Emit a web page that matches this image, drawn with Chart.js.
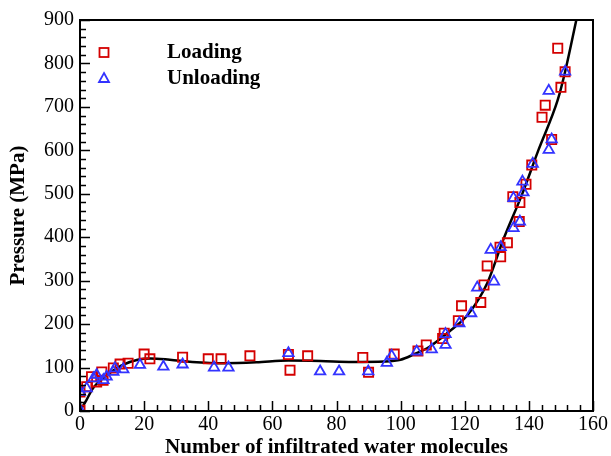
<!DOCTYPE html>
<html>
<head>
<meta charset="utf-8">
<script src="https://cdn.jsdelivr.net/npm/chart.js@4/dist/chart.umd.min.js"></script>
<style>
  html, body { margin: 0; padding: 0; background: #fff; }
  canvas { display: block; }
</style>
</head>
<body>
<canvas id="pressureChart" width="611" height="456"></canvas>
<script>
// loading points (red squares)
const loadingX = [0, 0, 2.1, 3.6, 5.2, 6.8, 7.2, 10.4, 12.5, 15, 20, 21.8, 32, 40, 44, 53, 65, 65.5, 71, 88.2, 90, 98,
    105.4, 108, 113.1, 113.6, 118, 119, 125, 126, 127, 131.2, 131, 133.3, 137, 137.2, 135, 139.1, 140.9, 144.1, 145.1,
    147.1, 150, 151.3, 149];
const loadingY = [2, 44, 56, 79, 67, 90, 71, 99, 108, 110, 131, 120, 124, 120, 120, 127, 130, 94, 127, 123, 89, 131,
    138, 152, 167, 179, 208, 242, 250, 290, 334, 355, 377, 387, 436, 480, 493, 522, 566, 676, 704,
    625, 745, 781, 835];

// unloading points (blue triangles)
const unloadingX = [0, 0, 2.1, 4.2, 5.2, 7.3, 8.3, 10.4, 10.9, 13.5, 18.7, 26, 32, 41.8, 46.3, 65, 74.9, 80.8, 89.9,
    95.7, 97.2, 105, 109.7, 114, 114, 118.3, 122, 123.9, 129.1, 128.1, 131.2, 135.2, 137.2, 135.2, 138.3, 138, 141.2,
    146.2, 147.1, 146.2, 151.3];
const unloadingY = [2, 44, 52, 75, 83, 71, 79, 90, 98, 96, 106, 102, 107, 100, 100, 133, 91, 91, 91,
    111, 127, 137, 142, 152, 177, 202, 225, 284, 298, 371, 377, 421, 436, 490, 503, 528, 569,
    601, 625, 737, 781];

// fitted curve (black line)
const curveX = [0, 2, 4, 8, 13, 18, 22, 28, 35, 45, 55, 65, 75, 85, 95, 100, 104, 109, 115, 121, 127, 132, 138, 143, 149, 151.3, 154.8];
const curveY = [0, 25, 52, 80, 105, 118, 121, 118, 113, 110, 112, 116, 115, 113, 114, 118, 130, 148, 182, 222, 294, 394, 501, 601, 716, 781, 900];

const xTicks = [0, 20, 40, 60, 80, 100, 120, 140, 160];
const yTicks = [0, 100, 200, 300, 400, 500, 600, 700, 800, 900];

const RED = "#d40000";
const BLUE = "#3333ff";
const SERIF = "'Liberation Serif', 'DejaVu Serif', serif";

function pairs(xs, ys) {
    return xs.map((x, i) => ({ x: x, y: ys[i] }));
}

// frame + inward ticks
const frameTicks = {
    id: "frameTicks",
    afterDraw(chart) {
        const ctx = chart.ctx;
        const a = chart.chartArea;
        const xs = chart.scales.x;
        const ys = chart.scales.y;
        ctx.save();
        ctx.strokeStyle = "#000";
        ctx.lineWidth = 1.5;
        ctx.beginPath();
        for (let v = 0; v <= 160; v += 4) {
            const px = Math.round(xs.getPixelForValue(v)) + 0.5;
            const len = v % 20 === 0 ? 10 : 6;
            ctx.moveTo(px, a.bottom);
            ctx.lineTo(px, a.bottom - len);
        }
        for (let v = 0; v <= 900; v += 20) {
            const py = Math.round(ys.getPixelForValue(v)) + 0.5;
            const len = v % 100 === 0 ? 10 : 6;
            ctx.moveTo(a.left, py);
            ctx.lineTo(a.left + len, py);
        }
        ctx.stroke();
        ctx.lineWidth = 2;
        ctx.strokeRect(a.left, a.top, a.right - a.left, a.bottom - a.top);
        ctx.restore();
    }
};

// legend inside plot
const innerLegend = {
    id: "innerLegend",
    afterDraw(chart) {
        const ctx = chart.ctx;
        ctx.save();
        ctx.lineWidth = 1.8;
        ctx.strokeStyle = RED;
        ctx.strokeRect(99.5, 48, 9, 9);
        ctx.strokeStyle = BLUE;
        ctx.beginPath();
        ctx.moveTo(104, 73);
        ctx.lineTo(109, 82);
        ctx.lineTo(99, 82);
        ctx.closePath();
        ctx.stroke();
        ctx.fillStyle = "#000";
        ctx.font = "bold 21px " + SERIF;
        ctx.textBaseline = "middle";
        ctx.fillText("Loading", 167, 53);
        ctx.fillText("Unloading", 167, 79);
        ctx.restore();
    }
};

const ctx = document.getElementById("pressureChart").getContext("2d");
new Chart(ctx, {
    type: "scatter",
    data: {
        datasets: [
            {
                label: "Fit",
                data: pairs(curveX, curveY),
                showLine: true,
                borderColor: "#000",
                borderWidth: 2.5,
                pointRadius: 0,
                cubicInterpolationMode: "monotone",
                order: 2
            },
            {
                label: "Loading",
                data: pairs(loadingX, loadingY),
                pointStyle: "rect",
                pointRadius: 6.5,
                pointBorderWidth: 1.8,
                borderColor: RED,
                backgroundColor: "rgba(0,0,0,0)",
                order: 1
            },
            {
                label: "Unloading",
                data: pairs(unloadingX, unloadingY),
                pointStyle: "triangle",
                pointRadius: 6,
                pointBorderWidth: 1.8,
                borderColor: BLUE,
                backgroundColor: "rgba(0,0,0,0)",
                order: 0
            }
        ]
    },
    options: {
        responsive: false,
        animation: false,
        devicePixelRatio: 1,
        layout: { padding: { top: 20, right: 18, left: 0, bottom: 0 } },
        plugins: {
            legend: { display: false },
            tooltip: { enabled: false }
        },
        scales: {
            x: {
                type: "linear",
                min: 0,
                max: 160,
                afterBuildTicks: s => { s.ticks = xTicks.map(v => ({ value: v })); },
                afterFit: s => { s.height = 45; },
                grid: { display: false, drawTicks: false },
                border: { display: false },
                ticks: { color: "#000", padding: 2, maxRotation: 0, font: { family: SERIF, size: 20 } },
                title: {
                    display: true,
                    text: "Number of infiltrated water molecules",
                    color: "#000",
                    padding: { top: 0, bottom: -4 },
                    font: { family: SERIF, size: 21, weight: "bold" }
                }
            },
            y: {
                type: "linear",
                min: 0,
                max: 900,
                afterBuildTicks: s => { s.ticks = yTicks.map(v => ({ value: v })); },
                afterFit: s => { s.width = 80; },
                grid: { display: false, drawTicks: false },
                border: { display: false },
                ticks: { color: "#000", padding: 6, font: { family: SERIF, size: 20 } },
                title: {
                    display: true,
                    text: "Pressure (MPa)",
                    color: "#000",
                    padding: { top: 6, bottom: 0 },
                    font: { family: SERIF, size: 21, weight: "bold" }
                }
            }
        }
    },
    plugins: [frameTicks, innerLegend]
});
</script>
</body>
</html>
